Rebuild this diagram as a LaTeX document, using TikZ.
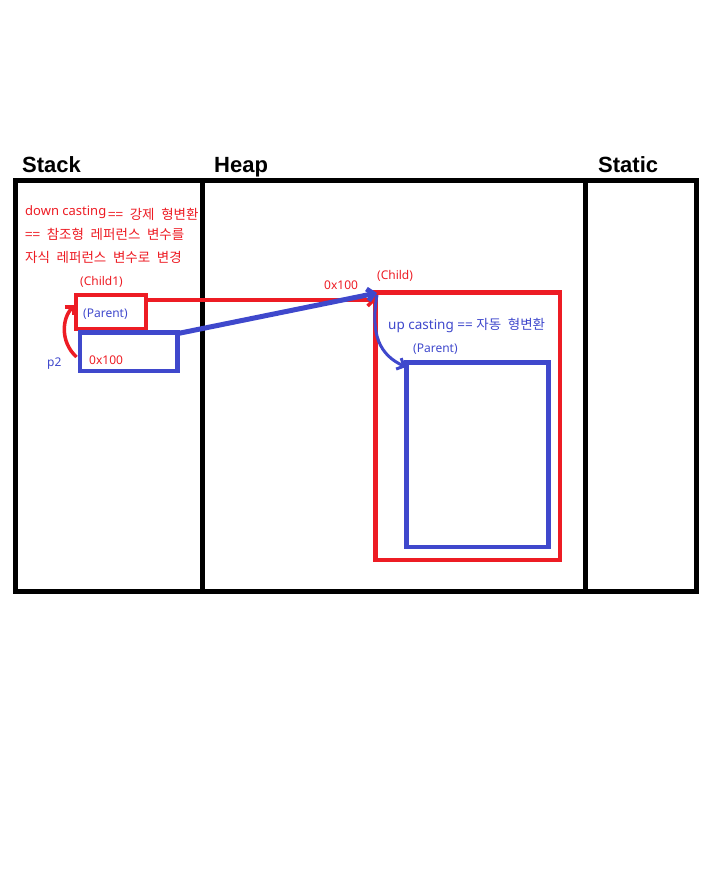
\documentclass[tikz,border=0pt]{standalone}
\usepackage{fontspec}
\setmainfont{Noto Sans}
\newfontfamily\kr[WordSpace=2.2]{Noto Sans CJK KR}
\newfontfamily\lat{Noto Sans}
\newfontfamily\headfont{Liberation Sans}
\usetikzlibrary{arrows.meta}
\definecolor{pred}{HTML}{ED1C24}
\definecolor{pblue}{HTML}{3F48CC}
\tikzset{
  frame/.style={draw=black, line width=5pt},
  head/.style={font=\headfont\bfseries\fontsize{22}{24}\selectfont, anchor=base west, inner sep=0pt},
  redtxt/.style={text=pred, anchor=base west, inner sep=0pt},
  bluetxt/.style={text=pblue, anchor=base west, inner sep=0pt},
  small/.style={font=\lat\fontsize{12}{14}\selectfont},
  redbox/.style={draw=pred, line width=4pt},
  bluebox/.style={draw=pblue, line width=4.5pt},
  barb/.style={-{Straight Barb[length=6pt,width=12pt]}},
}
\begin{document}
\begin{tikzpicture}[x=1pt,y=-1pt]
\useasboundingbox (0,0) rectangle (719,877);
% frame
\draw[frame] (15.5,181) rectangle (696.5,591);
\coordinate (d1t) at (202.5,181); \coordinate (d1b) at (202.5,591);
\coordinate (d2t) at (585,181); \coordinate (d2b) at (585,591);
\draw[frame] (d1t) -- (d1b);
\draw[frame] (d2t) -- (d2b);
% headings
\node[head] (hstack) at (22,172.5) {Stack};
\node[head] (hheap) at (214,172.5) {Heap};
\node[head] (hstatic) at (598,172.5) {Static};
% down casting text
\node[redtxt, font=\lat\fontsize{13}{15}\selectfont] (dc) at (25,215.5) {down casting};
\node[redtxt, font=\kr\fontsize{13.5}{15}\selectfont] (dc2) at (108,219.5) {== 강제 형변환};
\node[redtxt, font=\kr\fontsize{13.5}{15}\selectfont] (dc3) at (25,240) {== 참조형 레퍼런스 변수를};
\node[redtxt, font=\kr\fontsize{13.5}{15}\selectfont] (dc4) at (25,262) {자식 레퍼런스 변수로 변경};
% stack boxes
\node[redtxt, small] (child1) at (80,285.5) {(Child1)};
\draw[redbox] (76,295) rectangle (146,329);
\coordinate (rbR) at (146,300);
\coordinate (rbL) at (75,305);
\draw[bluebox] (80,332.5) rectangle (177.5,371);
\coordinate (bbTR) at (178,333.5);
\node[bluetxt, small] (parent1) at (83,317) {(Parent)};
\node[bluetxt, small] (p2) at (47,366) {p2};
\node[redtxt, small] (addr1) at (89,364) {0x100};
% heap boxes
\node[redtxt, small] (child) at (377,279.5) {(Child)};
\node[redtxt, small] (addr2) at (324,289.5) {0x100};
\draw[redbox, line width=4.5pt] (375.5,292.5) rectangle (560,560);
\draw[bluebox] (406.5,362.5) rectangle (548.5,547);
\coordinate (pTL) at (406,367);
\node[bluetxt, font=\fontsize{13.5}{15}\selectfont] (upc) at (388,329.5) {\lat up casting == {\kr 자동 형변환}};
\node[bluetxt, small] (parent2) at (413,352.5) {(Parent)};
% connectors
\coordinate (redtip) at (376,300);
\coordinate (bluetip) at (377,293);
\draw[pred, line width=3.5pt, barb] (rbR) -- (redtip);
\draw[pblue, line width=5pt, barb] (bbTR) -- (bluetip);
\draw[pblue, line width=3pt, barb] (377,295) .. controls (370,335) and (380,355) .. (pTL);
\coordinate (p2s) at (76.5,357);
\draw[pred, line width=3.5pt, barb] (p2s) .. controls (60,342) and (62,318) .. (rbL);
\end{tikzpicture}
\end{document}
